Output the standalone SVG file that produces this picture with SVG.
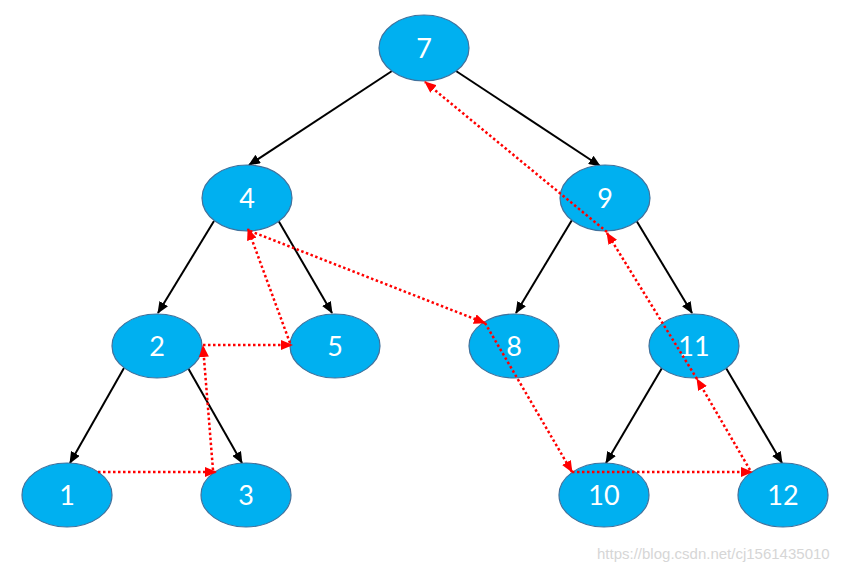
<svg xmlns="http://www.w3.org/2000/svg" width="853" height="573" viewBox="0 0 853 573">
<style>
.node ellipse{fill:#00B0F0;stroke:#41719C;stroke-width:1.2}
.node text{fill:#fff;font-family:Lato,"Open Sans",sans-serif;font-size:27px;text-anchor:middle}
.edge{stroke:#000;stroke-width:2;fill:none;marker-end:url(#ab)}
.thread{stroke:#f00;stroke-width:2.5;stroke-dasharray:2.5 2.5;fill:none;marker-end:url(#ar)}
.wm{fill:#d6d6d6;font-family:"Liberation Sans",Arial,sans-serif;font-size:15px}
</style>
<defs>
<marker id="ab" markerUnits="userSpaceOnUse" markerWidth="12" markerHeight="10" refX="11" refY="5" orient="auto"><path d="M0,0 L12,5 L0,10 z" fill="#000"/></marker>
<marker id="ar" markerUnits="userSpaceOnUse" markerWidth="12" markerHeight="10" refX="11" refY="5" orient="auto"><path d="M0,0 L12,5 L0,10 z" fill="#f00"/></marker>
</defs>
<rect width="853" height="573" fill="#fff"/>
<g id="connectors">
<line class="edge" x1="392" y1="71" x2="249" y2="165"/>
<line class="edge" x1="456" y1="71" x2="600" y2="166"/>
<line class="edge" x1="214" y1="221" x2="158" y2="313"/>
<line class="edge" x1="278" y1="220" x2="332" y2="313"/>
<line class="edge" x1="572" y1="220" x2="516" y2="313"/>
<line class="edge" x1="636" y1="220" x2="692" y2="313"/>
<line class="edge" x1="124" y1="368" x2="70" y2="463"/>
<line class="edge" x1="188" y1="368" x2="242" y2="463"/>
<line class="edge" x1="662" y1="368" x2="606" y2="463"/>
<line class="edge" x1="726" y1="368" x2="782" y2="463"/>
</g>
<g id="n7" class="node"><ellipse cx="424" cy="48" rx="45" ry="33"/><text x="424" y="58">7</text></g>
<g id="n4" class="node"><ellipse cx="247" cy="198" rx="45" ry="33"/><text x="247" y="208">4</text></g>
<g id="n9" class="node"><ellipse cx="605" cy="198" rx="45" ry="33"/><text x="605" y="208">9</text></g>
<g id="n2" class="node"><ellipse cx="157" cy="346" rx="45" ry="32"/><text x="157" y="356">2</text></g>
<g id="n5" class="node"><ellipse cx="335" cy="346" rx="45" ry="32"/><text x="335" y="356">5</text></g>
<g id="n8" class="node"><ellipse cx="514" cy="346" rx="45" ry="32"/><text x="514" y="356">8</text></g>
<g id="n11" class="node"><ellipse cx="694" cy="346" rx="45" ry="32"/><text x="694" y="356">11</text></g>
<g id="n1" class="node"><ellipse cx="67" cy="495" rx="45" ry="32"/><text x="67" y="505">1</text></g>
<g id="n3" class="node"><ellipse cx="246" cy="495" rx="45" ry="32"/><text x="246" y="505">3</text></g>
<g id="n10" class="node"><ellipse cx="604" cy="495" rx="45" ry="32"/><text x="604" y="505">10</text></g>
<g id="n12" class="node"><ellipse cx="783" cy="495" rx="45" ry="32"/><text x="783" y="505">12</text></g>
<g id="threads">
<line class="thread" x1="98" y1="472" x2="216" y2="472"/>
<line class="thread" x1="213" y1="470" x2="203" y2="346"/>
<line class="thread" x1="203" y1="345" x2="292" y2="345"/>
<line class="thread" x1="290" y1="343" x2="248" y2="229"/>
<line class="thread" x1="250" y1="231" x2="485" y2="323"/>
<line class="thread" x1="485" y1="323" x2="572" y2="472"/>
<line class="thread" x1="572" y1="472" x2="752" y2="472"/>
<line class="thread" x1="750" y1="470" x2="697" y2="379"/>
<line class="thread" x1="697" y1="379" x2="607" y2="233"/>
<line class="thread" x1="607" y1="232" x2="425" y2="82"/>
</g>
<text class="wm" x="597" y="559">https://blog.csdn.net/cj1561435010</text>
</svg>
